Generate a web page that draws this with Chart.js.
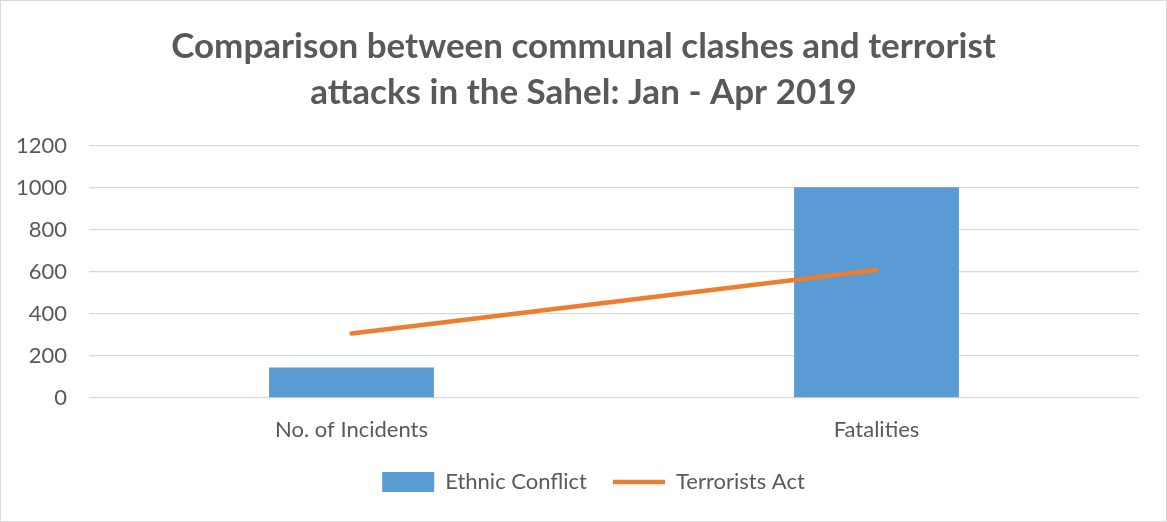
<!DOCTYPE html>
<html>
<head>
<meta charset="utf-8">
<script src="https://cdn.jsdelivr.net/npm/chart.js@4/dist/chart.umd.min.js"></script>
<style>
    html, body { margin: 0; padding: 0; background: #fff; }
    #wrap {
        width: 1167px;
        height: 522px;
        box-sizing: border-box;
        border: 1px solid #d9d9d9;
    }
</style>
</head>
<body>
<div id="wrap"><canvas id="sahel_chart" width="1165" height="520"></canvas></div>
<script>
'use strict';

// values
const categories = ['No. of Incidents', 'Fatalities'];
const ethnicConflict = [145, 1002];
const terroristsAct = [307, 609];
const yTicks = [0, 200, 400, 600, 800, 1000, 1200];

const FONT = 'Lato, "Open Sans", sans-serif';
const GREY = '#595959';
const RIGHT_PAD = 27;

// title and legend are centred on the whole canvas, not on the padded area
const centerBoxes = {
    id: 'centerBoxes',
    afterLayout: function (chart) {
        [chart.titleBlock, chart.legend].forEach(box => {
            if (box) {
                box.right += RIGHT_PAD;
                box.width += RIGHT_PAD;
            }
        });
        if (chart.legend) {
            chart.legend.left += 10;
            chart.legend.right += 10;
        }
    }
};

const ctx = document.getElementById('sahel_chart').getContext('2d');

new Chart(ctx, {
    type: 'bar',
    data: {
        labels: categories,
        datasets: [{
            label: 'Ethnic Conflict',
            data: ethnicConflict,
            backgroundColor: '#5b9bd5',
            borderWidth: 0,
            barPercentage: 0.314,
            categoryPercentage: 1,
            pointStyle: 'rect',
            order: 2
        }, {
            type: 'line',
            label: 'Terrorists Act',
            data: terroristsAct,
            borderColor: '#ed7d31',
            backgroundColor: '#ed7d31',
            borderWidth: 4.5,
            borderCapStyle: 'round',
            pointRadius: 0,
            pointHoverRadius: 0,
            pointStyle: 'line',
            fill: false,
            order: 1
        }]
    },
    options: {
        responsive: false,
        animation: false,
        layout: {
            padding: { left: 0, right: RIGHT_PAD, top: 0, bottom: 18 }
        },
        plugins: {
            title: {
                display: true,
                text: ['Comparison between communal clashes and terrorist', 'attacks in the Sahel: Jan - Apr 2019'],
                color: GREY,
                font: { family: FONT, size: 35, weight: 'bold', lineHeight: 1.31 },
                padding: { top: 23, bottom: 30 }
            },
            legend: {
                position: 'bottom',
                labels: {
                    usePointStyle: true,
                    pointStyleWidth: 52,
                    boxHeight: 20,
                    padding: 26,
                    color: GREY,
                    font: { family: FONT, size: 22 },
                    sort: (a, b) => a.datasetIndex - b.datasetIndex
                }
            },
            tooltip: { enabled: false }
        },
        scales: {
            x: {
                afterFit: function (scale) {
                    scale.height = 47;
                },
                grid: { display: false, drawTicks: false },
                border: { display: false },
                ticks: {
                    color: GREY,
                    padding: 19,
                    font: { family: FONT, size: 22 }
                }
            },
            y: {
                min: 0,
                max: 1200,
                afterBuildTicks: function (scale) {
                    scale.ticks = yTicks.map(v => ({ value: v }));
                },
                afterFit: function (scale) {
                    scale.width = 88;
                },
                grid: {
                    color: '#d9d9d9',
                    lineWidth: 1.3,
                    drawTicks: false
                },
                border: { display: false },
                ticks: {
                    color: GREY,
                    padding: 22,
                    font: { family: FONT, size: 22 },
                    callback: value => String(value)
                }
            }
        }
    },
    plugins: [centerBoxes]
});
</script>
</body>
</html>
